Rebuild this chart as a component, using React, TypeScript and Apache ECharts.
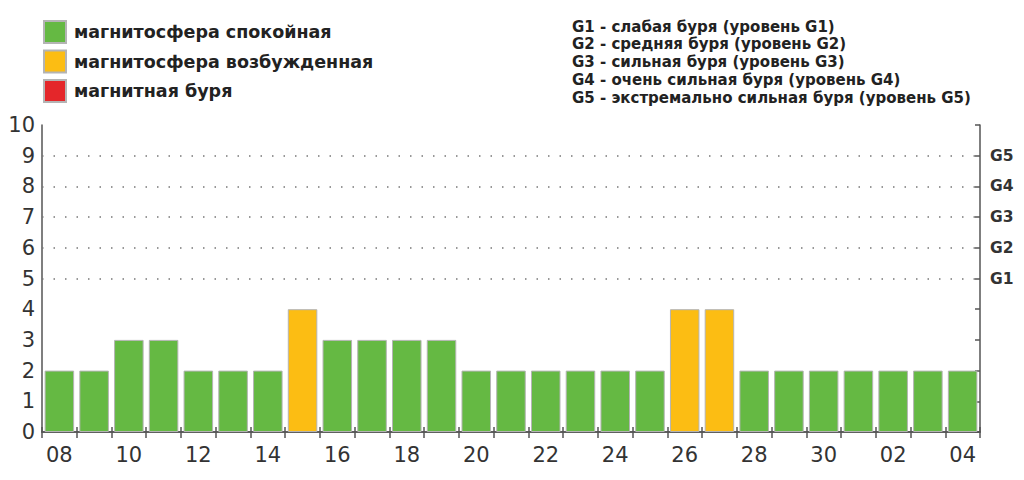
import React, { useEffect, useRef } from "react";
import * as echarts from "echarts";

const days = [
  "08", "09", "10", "11", "12", "13", "14", "15", "16", "17", "18", "19", "20", "21",
  "22", "23", "24", "25", "26", "27", "28", "29", "30", "01", "02", "03", "04",
];
const kpIndex = [2, 2, 3, 3, 2, 2, 2, 4, 3, 3, 3, 3, 2, 2, 2, 2, 2, 2, 4, 4, 2, 2, 2, 2, 2, 2, 2];
const statusNames = ["магнитосфера спокойная", "магнитосфера возбужденная", "магнитная буря"];
const statusColors = ["#65b943", "#fcbd13", "#e4262a"];
const gLevelValues = [5, 6, 7, 8, 9];
const gLevelNames = ["G1", "G2", "G3", "G4", "G5"];
const gLevelLegend = [
  "G1 - слабая буря (уровень G1)",
  "G2 - средняя буря (уровень G2)",
  "G3 - сильная буря (уровень G3)",
  "G4 - очень сильная буря (уровень G4)",
  "G5 - экстремально сильная буря (уровень G5)",
];
const yMin = 0;
const yMax = 10;

const FONT = "DejaVu Sans";

export default function App() {
  const ref = useRef<HTMLDivElement>(null);

  useEffect(() => {
    if (!ref.current) return;
    const chart = echarts.init(ref.current, null, { renderer: "svg" });

    const statusOf = (v: number) => (v >= 5 ? 2 : v >= 4 ? 1 : 0);
    const series: any[] = statusNames.map((name, si) => ({
      name,
      type: "bar",
      stack: "kp",
      xAxisIndex: 0,
      yAxisIndex: 0,
      barCategoryGap: "15%",
      itemStyle: { color: statusColors[si], borderColor: "#b4b4b4", borderWidth: 1 },
      data: kpIndex.map((v) => (statusOf(v) === si ? v : "-")),
    }));
    series[0].markLine = {
      silent: true,
      symbol: "none",
      label: { show: false },
      lineStyle: { color: "#777", type: [1.5, 10], width: 1.5 },
      data: gLevelValues.map((v) => ({ yAxis: v })),
    };

    const axisLineStyle = { color: "#555", width: 1.5 };

    chart.setOption({
      animation: false,
      backgroundColor: "#fff",
      grid: { left: 42, right: 44, top: 125, bottom: 48, containLabel: false },
      legend: {
        orient: "vertical",
        left: 38,
        top: 15,
        itemWidth: 22,
        itemHeight: 22,
        itemGap: 5.5,
        icon: "rect",
        selectedMode: false,
        data: statusNames,
        textStyle: { fontFamily: FONT, fontSize: 17.5, fontWeight: "bold", color: "#222", padding: [0, 0, 0, 3] },
      },
      xAxis: [
        {
          type: "category",
          data: days,
          position: "bottom",
          boundaryGap: true,
          axisLine: { show: true, lineStyle: axisLineStyle },
          axisTick: { show: true, inside: true, length: 5, interval: 0, lineStyle: axisLineStyle },
          axisLabel: { interval: 1, fontFamily: FONT, fontSize: 21, color: "#333", margin: 12 },
          splitLine: { show: false },
        },
        {
          type: "category",
          data: days,
          position: "top",
          boundaryGap: true,
          axisLine: { show: true, lineStyle: axisLineStyle },
          axisTick: { show: true, inside: true, length: 6, interval: 0, lineStyle: axisLineStyle },
          axisLabel: { show: false },
          splitLine: { show: false },
        },
      ],
      yAxis: [
        {
          type: "value",
          min: yMin,
          max: yMax,
          interval: 1,
          position: "left",
          axisLine: { show: true, lineStyle: axisLineStyle },
          axisTick: { show: false },
          axisLabel: { fontFamily: FONT, fontSize: 21, color: "#333", margin: 7 },
          splitLine: { show: false },
        },
        {
          type: "value",
          min: yMin,
          max: yMax,
          interval: 1,
          position: "right",
          axisLine: { show: true, lineStyle: axisLineStyle },
          axisTick: { show: true, inside: true, length: 5, lineStyle: axisLineStyle },
          axisLabel: {
            fontFamily: FONT,
            fontSize: 15.5,
            fontWeight: "bold",
            color: "#333",
            margin: 10,
            formatter: (v: number) => {
              const i = gLevelValues.indexOf(v);
              return i >= 0 ? gLevelNames[i] : "";
            },
          },
          splitLine: { show: false },
        },
      ],
      series,
      graphic: gLevelLegend.map((t, i) => ({
        type: "text",
        left: 572,
        top: 19 + i * 17.8,
        style: { text: t, fontFamily: FONT, fontSize: 15, fontWeight: "bold", fill: "#222" },
      })),
    });

    return () => chart.dispose();
  }, []);

  return (
    <div
      ref={ref}
      style={{ position: "absolute", left: 0, top: 0, width: 1024, height: 480, background: "#fff" }}
    />
  );
}
